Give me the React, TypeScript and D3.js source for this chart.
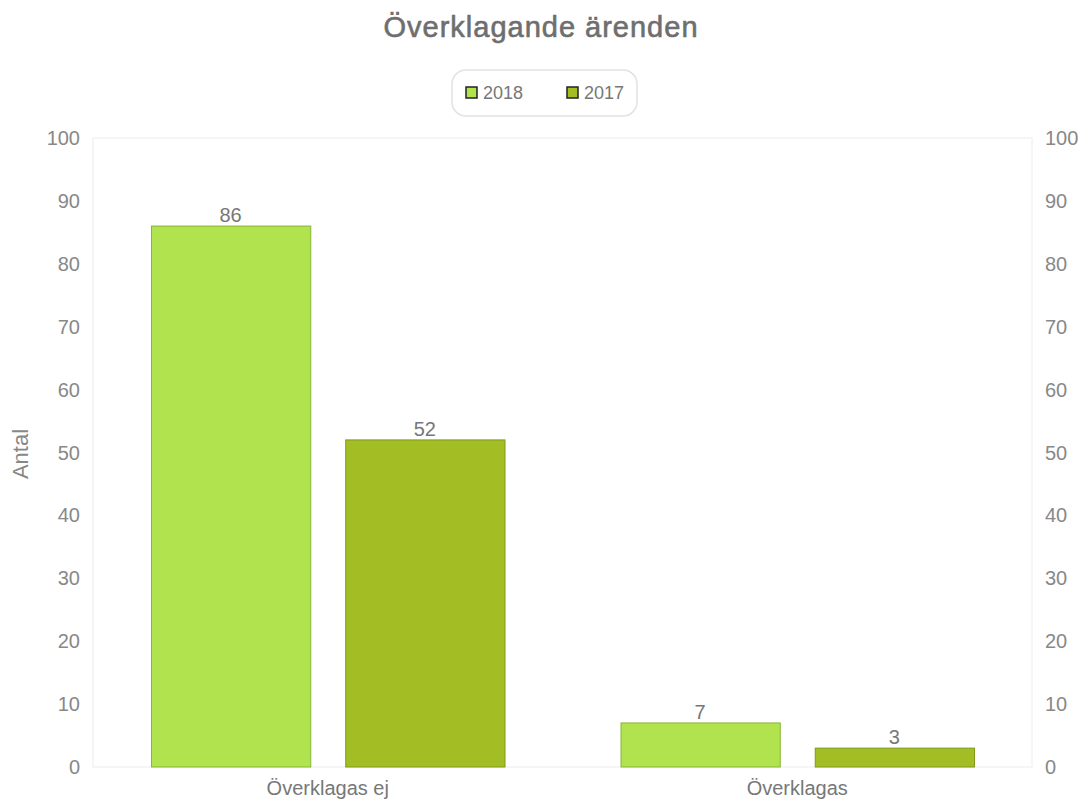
import React from "react";
import * as d3 from "d3";

const categories = ["Överklagas ej", "Överklagas"];
const seriesNames = ["2018", "2017"];
const values2018 = [86, 7];
const values2017 = [52, 3];
const yTicks = [0, 10, 20, 30, 40, 50, 60, 70, 80, 90, 100];

const fills = ["#b1e34f", "#a3be24"];
const strokes = ["#86b53a", "#7f9a17"];

const App = () => {
  const w = 1085;
  const h = 802;
  const left = 93;
  const right = 1032;
  const top = 138;
  const bottom = 767;
  const font = "'Liberation Sans', Arial, sans-serif";

  const series = [values2018, values2017];

  const xScale = d3.scaleBand().domain(categories).range([left, right]).paddingInner(0).paddingOuter(0);
  const yScale = d3.scaleLinear().domain([0, 100]).range([bottom, top]);
  const groupPad = 58;
  const inner = d3
    .scaleBand()
    .domain(seriesNames)
    .range([groupPad, xScale.bandwidth() - groupPad])
    .paddingInner(0.18);

  return (
    <svg width={w} height={h} style={{ position: "absolute", left: 0, top: 0, background: "#fff" }}>
      <text
        x={541}
        y={37}
        textAnchor="middle"
        fontFamily={font}
        fontSize={29}
        letterSpacing={1}
        fill="#6e6e6e"
        stroke="#6e6e6e"
        strokeWidth={0.6}
      >
        Överklagande ärenden
      </text>

      {/* legend */}
      <rect x={452} y={70} width={185} height={46} rx={14} fill="#fff" stroke="#e2e2e2" strokeWidth={1.5} />
      {seriesNames.map((s, i) => (
        <g key={s} transform={`translate(${466 + i * 101},87)`}>
          <rect x={0} y={0} width={11} height={11} fill={fills[i]} stroke="#222" strokeWidth={1.5} />
          <text x={17} y={12} fontFamily={font} fontSize={18} fill="#777">
            {s}
          </text>
        </g>
      ))}

      {/* plot frame */}
      <rect x={left} y={top} width={right - left} height={bottom - top} fill="none" stroke="#ececec" strokeWidth={1} />

      {yTicks.map((t) => (
        <g key={t}>
          <text x={80} y={yScale(t) + 7} textAnchor="end" fontFamily={font} fontSize={20} fill="#888">
            {t}
          </text>
          <text x={1045} y={yScale(t) + 7} textAnchor="start" fontFamily={font} fontSize={20} fill="#888">
            {t}
          </text>
        </g>
      ))}

      <text
        transform={`translate(28,454) rotate(-90)`}
        textAnchor="middle"
        fontFamily={font}
        fontSize={22}
        fill="#888"
      >
        Antal
      </text>

      {categories.map((c, ci) => (
        <g key={c} transform={`translate(${xScale(c)},0)`}>
          {seriesNames.map((s, si) => {
            const v = series[si][ci];
            const x = inner(s) as number;
            return (
              <g key={s}>
                <rect
                  x={x + 0.5}
                  y={yScale(v)}
                  width={inner.bandwidth()}
                  height={bottom - yScale(v)}
                  fill={fills[si]}
                  stroke={strokes[si]}
                  strokeWidth={1}
                />
                <text
                  x={x + inner.bandwidth() / 2}
                  y={yScale(v) - 4}
                  textAnchor="middle"
                  fontFamily={font}
                  fontSize={20}
                  fill="#777"
                >
                  {v}
                </text>
              </g>
            );
          })}
          <text
            x={xScale.bandwidth() / 2}
            y={795}
            textAnchor="middle"
            fontFamily={font}
            fontSize={20}
            fill="#777"
          >
            {c}
          </text>
        </g>
      ))}
    </svg>
  );
};

export default App;
